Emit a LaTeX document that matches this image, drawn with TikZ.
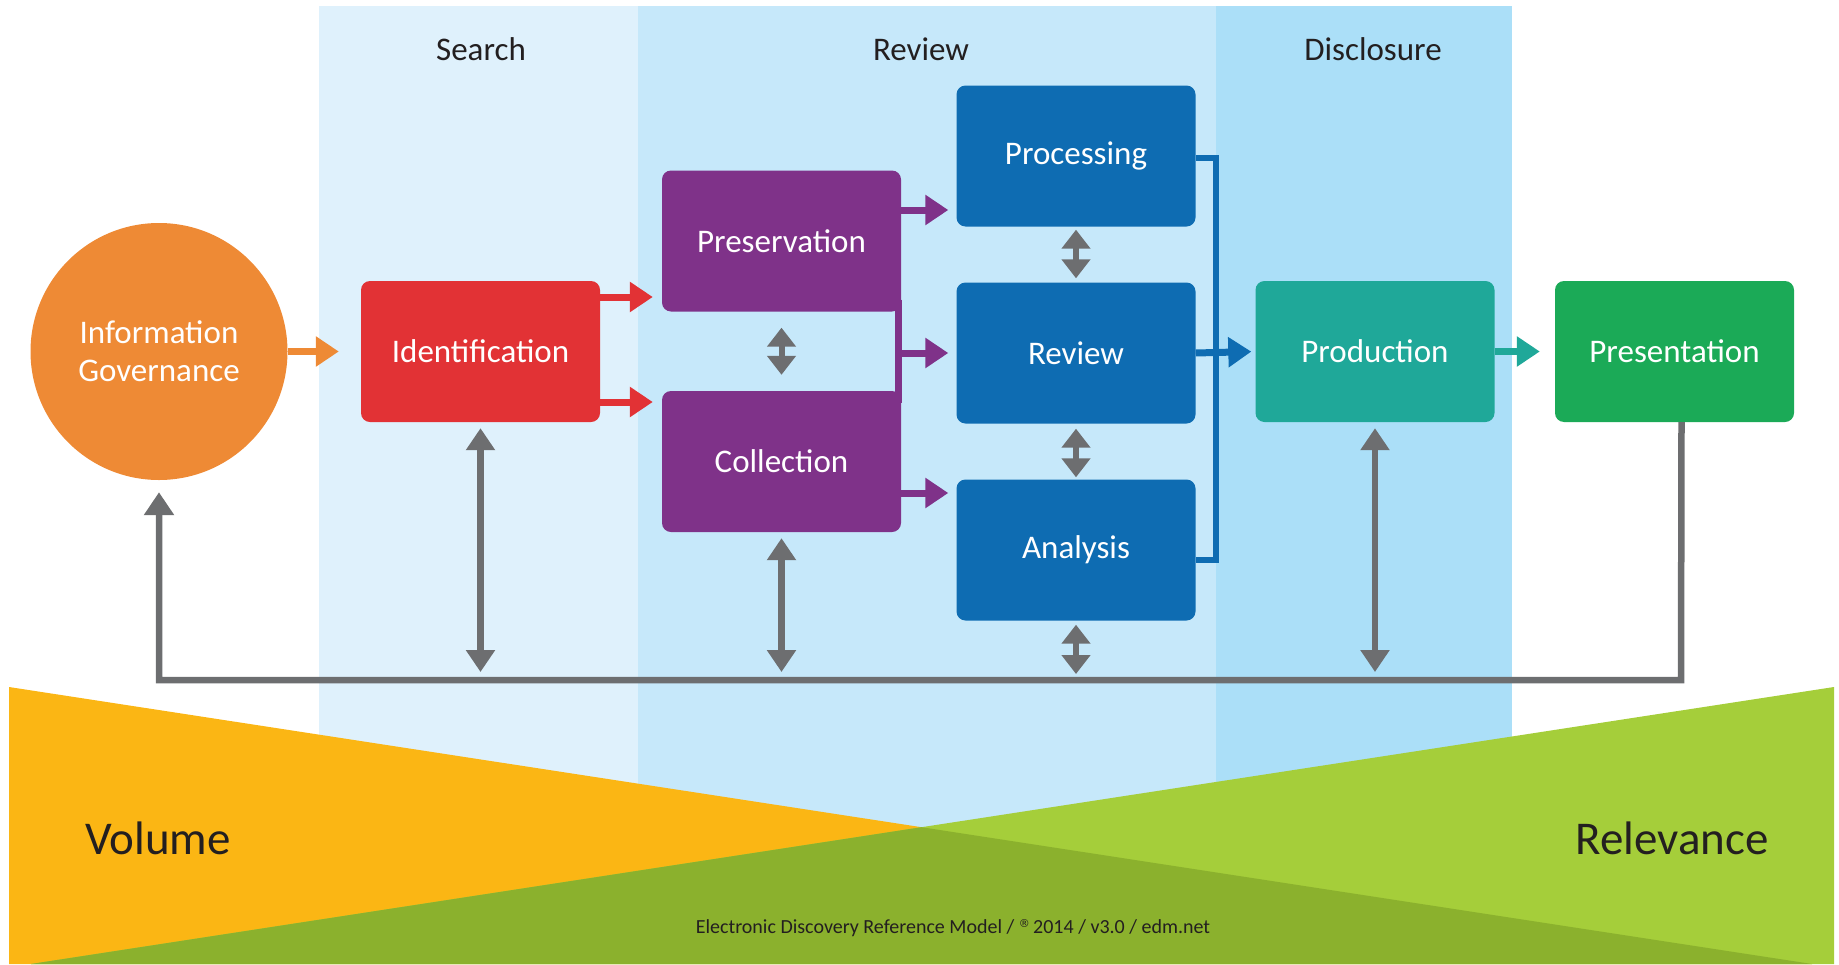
\documentclass[tikz,border=0pt]{standalone}
\usepackage{fontspec}
\setmainfont{Carlito}
\newfontfamily\regfont{DejaVu Sans}
\usetikzlibrary{arrows.meta,calc}
\definecolor{colsearch}{HTML}{DFF1FC}
\definecolor{colreview}{HTML}{C6E8FA}
\definecolor{coldisc}{HTML}{ABDFF8}
\definecolor{triorange}{HTML}{FBB614}
\definecolor{trigreen}{HTML}{A5CE3A}
\definecolor{triolive}{HTML}{8BB12D}
\definecolor{igorange}{HTML}{EE8A35}
\definecolor{idred}{HTML}{E23235}
\definecolor{purp}{HTML}{7F3289}
\definecolor{blu}{HTML}{0E6CB2}
\definecolor{prodteal}{HTML}{1FA899}
\definecolor{presgreen}{HTML}{1BAA57}
\definecolor{arrgray}{HTML}{6D6E70}
\definecolor{txtdark}{HTML}{231F20}
\begin{document}
\begin{tikzpicture}[x=1pt,y=-1pt,
  box/.style={rectangle, rounded corners=9pt, minimum width=239pt, minimum height=141pt, inner sep=0pt, text=white, font=\fontsize{33}{38}\selectfont},
  hdr/.style={inner sep=0pt, text=txtdark, font=\fontsize{33}{38}\selectfont},
  bigword/.style={inner sep=0pt, text=txtdark, font=\fontsize{47}{52}\selectfont},
  carrow/.style={line width=7pt, -{Triangle[width=29pt,length=23pt]}},
  gline/.style={draw=arrgray, line width=6.5pt},
  gdouble/.style={gline, {Triangle[width=28pt,length=22pt]}-{Triangle[width=28pt,length=22pt]}},
  gshort/.style={gline, line width=6pt, {Triangle[width=28pt,length=19pt]}-{Triangle[width=28pt,length=19pt]}},
]
\useasboundingbox (0,0) rectangle (1839,964);
% columns
\fill[colsearch] (319,6) rectangle (638,964);
\fill[colreview] (638,6) rectangle (1216,964);
\fill[coldisc] (1216,6) rectangle (1512,964);
% triangles
\fill[triorange] (9,687) -- (1812,964) -- (9,964) -- cycle;
\fill[trigreen] (1834,687) -- (1834,964) -- (31,964) -- cycle;
\fill[triolive] (921.5,827.2) -- (1812,964) -- (31,964) -- cycle;
% headers
\node[hdr] (hsearch) at (481,49) {Search};
\node[hdr] (hreview) at (921,49) {Review};
\node[hdr] (hdisc) at (1373,49) {Disclosure};
% nodes
\node[circle, fill=igorange, minimum size=257pt, inner sep=0pt, align=center, text=white, font=\fontsize{33}{38}\selectfont] (ig) at (159,351.5) {Information\\Governance};
\node[box, fill=idred] (ident) at (480.5,351.5) {Identification};
\node[box, fill=purp] (pres) at (781.5,241) {Preservation};
\node[box, fill=purp] (coll) at (781.5,461.5) {Collection};
\node[box, fill=blu] (proc) at (1076,156) {Processing};
\node[box, fill=blu] (rev) at (1076,353) {Review};
\node[box, fill=blu] (anal) at (1076,550) {Analysis};
\node[box, fill=prodteal] (prod) at (1375,351.5) {Production};
\node[box, fill=presgreen] (presn) at (1674.5,351.5) {Presentation};
% big words
\node[bigword] (vol) at (158,838) {Volume};
\node[bigword] (rel) at (1672,838) {Relevance};
\node[inner sep=0pt, text=txtdark, font=\fontsize{20}{24}\selectfont] (foot) at (953,928) {Electronic Discovery Reference Model / \raisebox{6pt}{\regfont\fontsize{11}{11}\selectfont ®}\,2014 / v3.0 / edm.net};
% coloured arrows
\draw[carrow, draw=igorange, shorten >=22pt] (ig.east) -- (ident.west);
\draw[carrow, draw=idred, shorten >=9pt] (ident.east |- 0,297) -- (pres.west |- 0,297);
\draw[carrow, draw=idred, shorten >=9pt] (ident.east |- 0,402) -- (coll.west |- 0,402);
\coordinate (pj) at ($(pres.south east)+(-3,0)$);
\draw[line width=7pt, draw=purp] ($(pres.south east)+(-3,-12)$) -- ($(coll.north east)+(-3,12)$);
\draw[carrow, draw=purp, shorten >=8pt] (pres.east |- 0,210) -- (proc.west |- 0,210);
\draw[carrow, draw=purp, shorten >=8pt] (pj |- rev.west) -- (rev.west);
\draw[carrow, draw=purp, shorten >=8pt] (coll.east |- 0,493) -- (anal.west |- 0,493);
\coordinate (bt) at (1216,158);
\coordinate (bb) at (1216,560);
\draw[line width=6.5pt, draw=blu] (proc.east |- bt) -- (bt) -- (bb) -- (anal.east |- bb);
\draw[carrow, draw=blu, shorten >=4pt] (rev.east) -- (prod.west);
\draw[carrow, draw=prodteal, shorten >=15pt] (prod.east) -- (presn.west);
% gray arrows
\coordinate (base) at (0,672);
\draw[gdouble] ([yshift=-6pt]ident.south) -- (ident.south |- base);
\draw[gdouble] ([yshift=-6pt]coll.south) -- (coll.south |- base);
\draw[gdouble] ([yshift=-6pt]prod.south) -- (prod.south |- base);
\draw[gshort] ([yshift=-16pt]pres.south) -- ([yshift=16pt]coll.north);
\draw[gshort] ([yshift=-3pt]proc.south) -- ([yshift=4pt]rev.north);
\draw[gshort] ([yshift=-5pt]rev.south) -- ([yshift=2pt]anal.north);
\draw[gshort] ([yshift=-4pt]anal.south) -- (anal.south |- 0,674);
\coordinate (fbR) at (1681,680);
\coordinate (fbL) at (159,680);
\draw[gline, -{Triangle[width=29pt,length=23pt]}] ([xshift=7pt]presn.south) -- (fbR) -- (fbL) -- ([yshift=-12pt]ig.south);
\end{tikzpicture}
\end{document}
